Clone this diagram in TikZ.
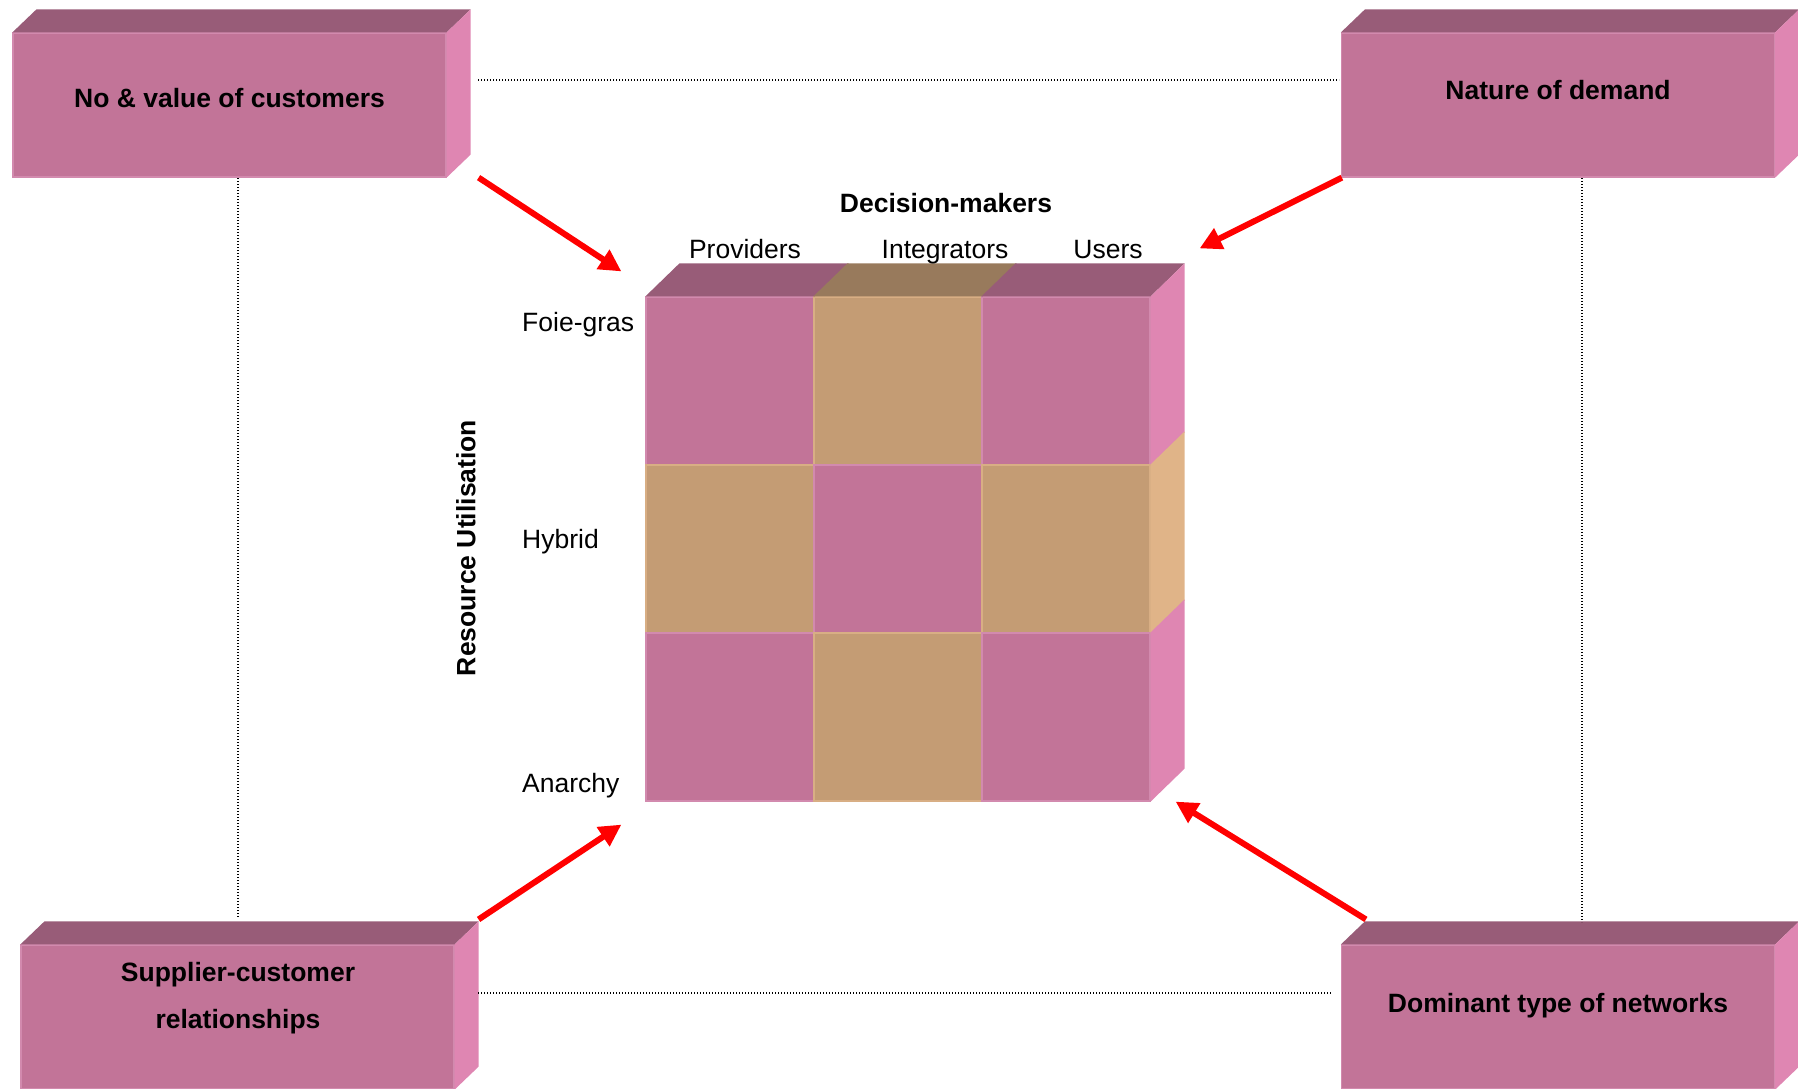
\documentclass[tikz,border=0pt]{standalone}
\usepackage{fontspec}
\setmainfont{Liberation Sans}
\usetikzlibrary{arrows.meta}

\definecolor{facepink}{HTML}{C27498}
\definecolor{toppink}{HTML}{985C78}
\definecolor{sidepink}{HTML}{DF86B2}
\definecolor{edgepink}{HTML}{D28AAE}
\definecolor{facetan}{HTML}{C49C74}
\definecolor{toptan}{HTML}{987A5C}
\definecolor{sidetan}{HTML}{E0B488}
\definecolor{edgetan}{HTML}{D8AE84}
\definecolor{arrowred}{HTML}{FF0000}

\begin{document}
\begin{tikzpicture}[x=1pt,y=-1pt,
  lbl/.style={font=\fontsize{26.5}{32}\selectfont, inner sep=0pt},
  blbl/.style={font=\fontsize{26.5}{47}\selectfont\bfseries, inner sep=0pt},
  slab/.style={fill=facepink, draw=edgepink, line width=1.2pt,
               minimum width=433pt, minimum height=144pt, inner sep=0pt},
  pinkcell/.style={fill=facepink, draw=edgepink, line width=1.2pt,
               minimum size=168pt, inner sep=0pt},
  tancell/.style={fill=facetan, draw=edgetan, line width=1.2pt,
               minimum size=168pt, inner sep=0pt},
  link/.style={black, line width=1.4pt, dash pattern=on 1.4pt off 1.6pt},
  push/.style={arrowred, line width=6pt,
               -{Triangle[length=22pt,width=22pt]}}
]
\useasboundingbox (0,0) rectangle (1798,1088);
\clip (0,0) rectangle (1798,1088);

% ---- the four factor blocks (front face as a node, top and side as faces)
\node[slab] (nv) at (229.5,105) {};
\node[slab] (nd) at (1558,105) {};
\node[slab] (sc) at (237.5,1017) {};
\node[slab] (dn) at (1558,1017) {};

\foreach \b in {nv,nd,sc,dn}{
  \fill[toppink] (\b.north west) -- ++(24,-23) -- ([shift={(24,-23)}]\b.north east)
        -- (\b.north east) -- cycle;
  \fill[sidepink] (\b.north east) -- ++(24,-23) -- ([shift={(24,-23)}]\b.south east)
        -- (\b.south east) -- cycle;
}

\node[blbl, anchor=base] (nvt) at (229.5,107) {No \& value of customers};
\node[blbl, anchor=base] (ndt) at (1558,99) {Nature of demand};
\node[blbl, anchor=base, align=center] (sct) at (238,1028) {Supplier-customer\\relationships};
\node[blbl, anchor=base] (dnt) at (1558,1012) {Dominant type of networks};

% ---- dotted links between the blocks
\coordinate (ltop) at (478,80);
\coordinate (rtop) at (1339,80);
\coordinate (lbot) at (478,993);
\coordinate (rbot) at (1332,993);
\coordinate (lup) at (238,178);
\coordinate (ldown) at (238,918);
\coordinate (rup) at (1582,178);
\coordinate (rdown) at (1582,922);
\draw[link] (ltop) -- (rtop);
\draw[link] (lbot) -- (rbot);
\draw[link] (lup) -- (ldown);
\draw[link] (rup) -- (rdown);

% ---- the 3 x 3 matrix
\node[pinkcell] (c11) at (730,381) {};
\node[tancell]  (c12) at (898,381) {};
\node[pinkcell] (c13) at (1066,381) {};
\node[tancell]  (c21) at (730,549) {};
\node[pinkcell] (c22) at (898,549) {};
\node[tancell]  (c23) at (1066,549) {};
\node[pinkcell] (c31) at (730,717) {};
\node[tancell]  (c32) at (898,717) {};
\node[pinkcell] (c33) at (1066,717) {};

% top faces of the columns
\fill[toppink] (c11.north west) -- ++(34,-33) -- ([shift={(34,-33)}]c11.north east) -- (c11.north east) -- cycle;
\fill[toptan]  (c12.north west) -- ++(34,-33) -- ([shift={(34,-33)}]c12.north east) -- (c12.north east) -- cycle;
\fill[toppink] (c13.north west) -- ++(34,-33) -- ([shift={(34,-33)}]c13.north east) -- (c13.north east) -- cycle;
% side faces of the rows
\fill[sidepink] (c13.north east) -- ++(34,-33) -- ([shift={(34,-33)}]c13.south east) -- (c13.south east) -- cycle;
\fill[sidetan]  (c23.north east) -- ++(34,-33) -- ([shift={(34,-33)}]c23.south east) -- (c23.south east) -- cycle;
\fill[sidepink] (c33.north east) -- ++(34,-33) -- ([shift={(34,-33)}]c33.south east) -- (c33.south east) -- cycle;

% ---- axis labels
\node[blbl, anchor=base] (dm) at (946,212) {Decision-makers};
\node[lbl, anchor=base] (pr) at (745,258) {Providers};
\node[lbl, anchor=base] (in) at (945,258) {Integrators};
\node[lbl, anchor=base] (us) at (1108,258) {Users};

\node[blbl, rotate=90] (ru) at (466,548) {Resource Utilisation};
\node[lbl, anchor=base west] (fg) at (522,331) {Foie-gras};
\node[lbl, anchor=base west] (hy) at (522,548) {Hybrid};
\node[lbl, anchor=base west] (an) at (522,792) {Anarchy};

% ---- influence arrows
\coordinate (a1s) at ([shift={(32,0)}]nv.south east);
\coordinate (a1e) at ([shift={(-24,-25)}]c11.north west);
\coordinate (a2s) at ([shift={(1,0)}]nd.south west);
\coordinate (a2e) at ([shift={(49,-48)}]c13.north east);
\coordinate (a3s) at ([shift={(24,-25)}]sc.north east);
\coordinate (a3e) at ([shift={(-24,23)}]c31.south west);
\coordinate (a4s) at ([shift={(25,-25)}]dn.north west);
\coordinate (a4e) at ([shift={(25,0)}]c33.south east);

\draw[push] (a1s) -- (a1e);
\draw[push] (a2s) -- (a2e);
\draw[push] (a3s) -- (a3e);
\draw[push] (a4s) -- (a4e);
\end{tikzpicture}
\end{document}
